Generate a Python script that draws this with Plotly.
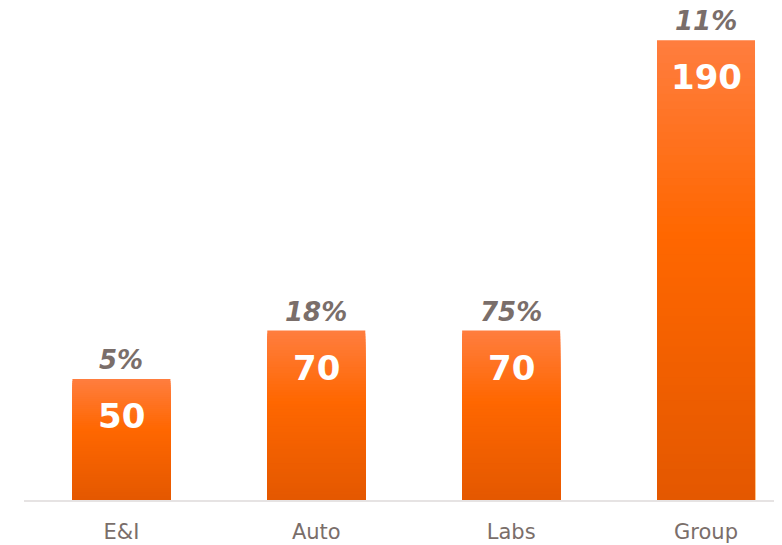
import plotly.graph_objects as go

categories = ["E&I", "Auto", "Labs", "Group"]
values = [50, 70, 70, 190]
pct_labels = ["5%", "18%", "75%", "11%"]

# vertical gradient stops (top -> bottom)
stops = [(0.0, (255, 125, 62)), (0.42, (255, 103, 0)), (1.0, (228, 88, 0))]

def color_at(t):
    for (t0, c0), (t1, c1) in zip(stops[:-1], stops[1:]):
        if t0 <= t <= t1:
            f = (t - t0) / (t1 - t0)
            return "rgb(%d,%d,%d)" % tuple(round(a + (b - a) * f) for a, b in zip(c0, c1))
    return "rgb(%d,%d,%d)" % stops[-1][1]

N = 60
fig = go.Figure()
for k in range(N):
    frac = 1 - k / N
    fig.add_trace(go.Bar(
        x=categories, y=[v * frac for v in values],
        marker=dict(color=color_at(k / (N - 1)), line=dict(width=0)),
        hoverinfo="skip", showlegend=False,
    ))

for c, v, p in zip(categories, values, pct_labels):
    fig.add_annotation(x=c, y=v, text=str(v), showarrow=False, yshift=-37,
                       font=dict(family="DejaVu Sans", size=34, color="white", weight="bold"))
    fig.add_annotation(x=c, y=v, text="<b><i>%s</i></b>" % p, showarrow=False, yshift=19,
                       font=dict(family="DejaVu Sans", size=26, color="#7A6E6A"))

fig.update_layout(
    width=774, height=537,
    margin=dict(l=15.5, r=0, t=0, b=45),
    barmode="overlay", bargap=0.497,
    plot_bgcolor="white", paper_bgcolor="white",
    xaxis=dict(range=[-0.5, 3.39], showline=True, linecolor="#E6E3E3", linewidth=2,
               showgrid=False, ticks="", tickfont=dict(family="DejaVu Sans", size=21, color="#7A6E6A"),
               ticklabelstandoff=12),
    yaxis=dict(range=[0, 203.3], visible=False, showgrid=False, zeroline=False),
)

fig.write_html("out.html")
